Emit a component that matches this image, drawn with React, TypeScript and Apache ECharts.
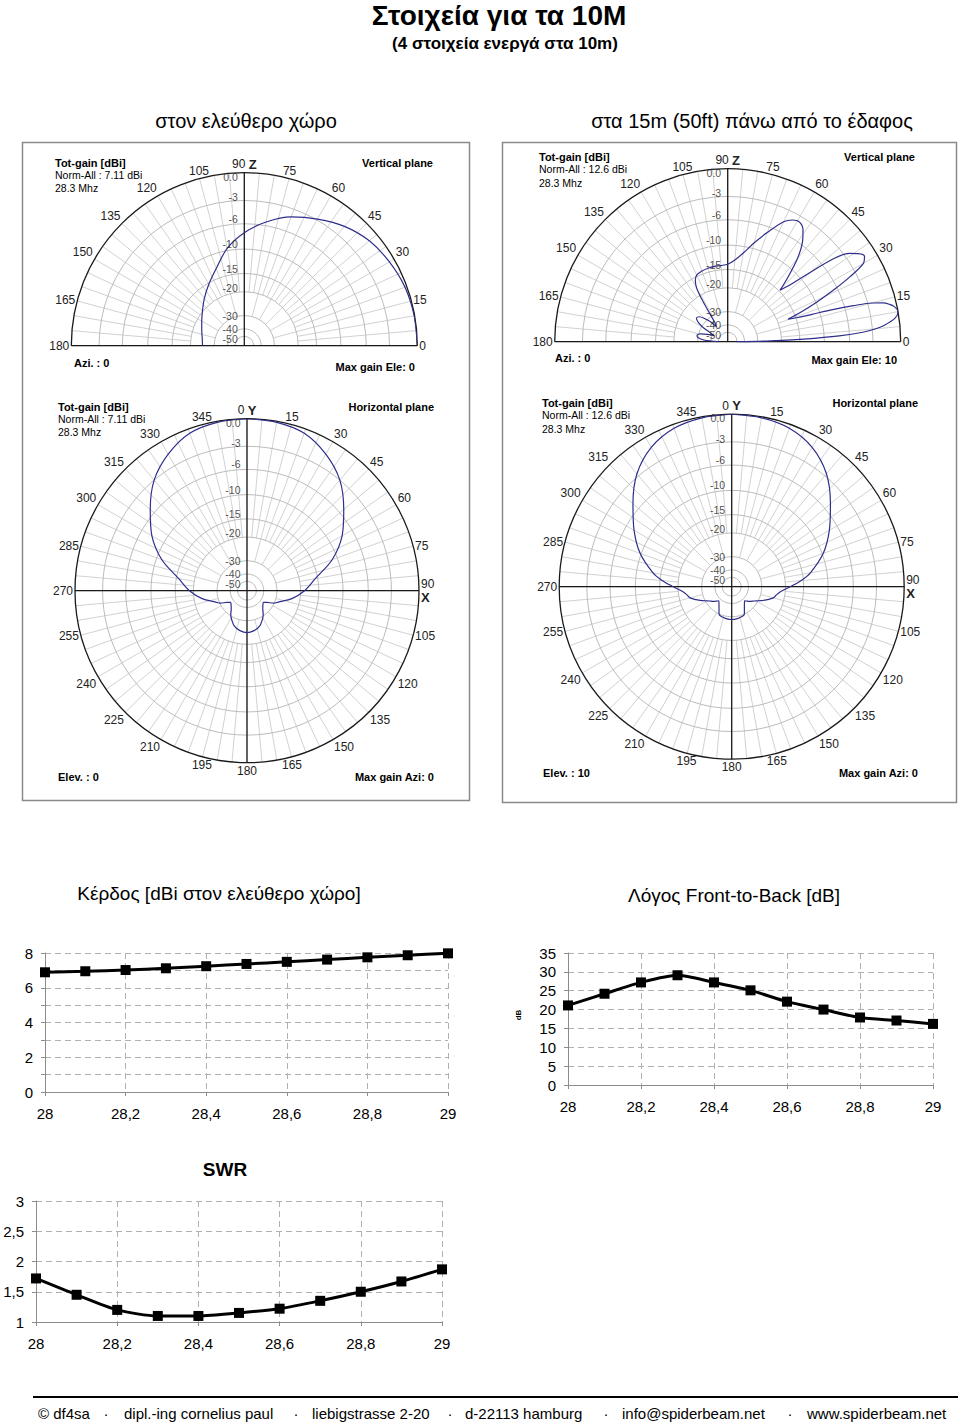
import React, { useEffect, useRef } from 'react';
import * as echarts from 'echarts';

const FONT = '"Liberation Sans", Arial, sans-serif';

// ---------- line chart data ----------
const FREQ = [28, 28.1, 28.2, 28.3, 28.4, 28.5, 28.6, 28.7, 28.8, 28.9, 29];
const GAIN_DBI = [6.89, 6.95, 7.02, 7.12, 7.24, 7.37, 7.49, 7.62, 7.75, 7.87, 7.98];
const FB_DB = [21.1, 24.2, 27.2, 29.1, 27.2, 25.1, 22.1, 20.0, 17.9, 17.1, 16.2];
const SWR = [1.72, 1.45, 1.2, 1.1, 1.1, 1.15, 1.22, 1.35, 1.5, 1.67, 1.87];

// ---------- polar grid ----------
const RING_DB = [0, -3, -6, -10, -15, -20, -30, -40, -50];
const RING_LABELS = ['0.0', '-3', '-6', '-10', '-15', '-20', '-30', '-40', '-50'];
const RING_LABEL_DY = [4, -3, -5, -5, -5, -4, 0, 0, 3];

// ---------- antenna patterns (angle in degrees, gain in dB rel. max) ----------
// free space, vertical plane (elevation)
const FS_V_ANG = [0, 10, 20, 30, 40, 50, 60, 70, 80, 90, 100, 110, 120, 130, 140, 150, 160, 170, 180];
const FS_V_DB = [0, -0.05, -0.2, -0.55, -1.0, -1.8, -2.9, -4.0, -5.5, -7.3, -9.6, -12.8, -15.3, -17.6, -19.8, -21.6, -23.0, -24.0, -24.4];

// 15 m above ground, vertical plane (elevation)
const GR_V_ANG = [0, 1, 2, 3, 4, 5, 6, 8, 10, 12, 13, 14, 15, 16, 17, 18, 19, 20.5, 22, 24, 26, 28, 30, 32, 34, 36, 38, 40, 42, 44.5, 47, 50, 53, 56, 59, 62, 65, 70, 75, 80, 85, 90, 95, 100, 105, 110, 115, 118, 120, 121, 122, 124, 127, 131, 135, 139, 143, 147, 150, 153, 156, 160, 164, 168, 172, 176, 180];
const GR_V_DB = [-50, -24, -14, -7.5, -4.2, -2.6, -1.6, -0.4, 0, -0.3, -0.7, -1.3, -2.5, -4.8, -7.8, -11.5, -14.5, -17, -13.5, -9.8, -6.6, -3.8, -1.7, -1.2, -1.6, -2.4, -4.2, -8.0, -11.8, -14.7, -11.5, -8.0, -5.7, -4.3, -3.7, -3.9, -4.6, -6.8, -9.0, -11.2, -12.8, -13.8, -14.0, -14.0, -14.1, -14.3, -14.7, -15.8, -17.5, -20, -25, -35, -38, -32, -28.5, -26, -25.5, -27.5, -31, -38, -42, -36, -31, -29.3, -30, -34, -50];

// free space, horizontal plane (azimuth)
const FS_H_ANG = [0, 10, 20, 30, 40, 50, 60, 70, 80, 90, 100, 110, 115, 120, 125, 130, 135, 140, 145, 150, 160, 170, 180, 190, 200, 210, 215, 220, 225, 230, 235, 240, 245, 250, 260, 270, 280, 290, 300, 310, 320, 330, 340, 350, 360];
const FS_H_DB = [0, -0.1, -0.45, -1.5, -3.0, -5.3, -7.7, -11.0, -15.6, -18.8, -22.8, -28.2, -30.2, -34.2, -36.8, -36.2, -35.0, -33.4, -31.0, -29.1, -26.2, -24.8, -24.2, -24.8, -26.2, -29.1, -31.0, -33.4, -35.0, -36.2, -36.8, -34.2, -30.2, -28.2, -22.8, -18.8, -15.6, -11.0, -7.7, -5.3, -3.0, -1.5, -0.45, -0.1, 0];

// 15 m above ground, horizontal plane (azimuth, elev 10)
const GR_H_ANG = [0, 10, 20, 30, 40, 50, 60, 70, 80, 85, 90, 95, 100, 105, 110, 115, 120, 125, 130, 135, 138, 145, 150, 155, 160, 170, 180, 190, 200, 205, 210, 215, 222, 225, 230, 235, 240, 245, 250, 255, 260, 265, 270, 275, 280, 290, 300, 310, 320, 330, 340, 350, 360];
const GR_H_DB = [0, -0.1, -0.4, -1.2, -2.7, -5.0, -7.3, -9.8, -13.2, -15.6, -18.6, -21.2, -22.8, -23.8, -26.0, -28.5, -31.0, -33.0, -34.6, -36.8, -37.8, -35.2, -32.9, -30.0, -29.2, -28.7, -28.5, -28.7, -29.2, -30.0, -32.9, -35.2, -37.8, -36.8, -34.6, -33.0, -31.0, -28.5, -26.0, -23.8, -22.8, -21.2, -18.6, -15.6, -13.2, -9.8, -7.3, -5.0, -2.7, -1.2, -0.4, -0.1, 0];

function arrl(db: number) {
  return Math.pow(0.89, -Math.max(db, -50) / 2);
}

function makeGrid(half: boolean) {
  return (_params: any, api: any) => {
    const c = api.coord([0, 0]);
    const cx = c[0], cy = c[1];
    const children: any[] = [];
    for (let a = 0; a < 360; a += 5) {
      if (half && a > 180) continue;
      const inner = a % 15 === 0 ? arrl(-30) : arrl(-20);
      const p0 = api.coord([inner, a]);
      const p1 = api.coord([1, a]);
      children.push({ type: 'line', shape: { x1: p0[0], y1: p0[1], x2: p1[0], y2: p1[1] }, style: { stroke: '#d2d2d2', lineWidth: 1 } });
    }
    RING_DB.forEach((d, k) => {
      const p = api.coord([arrl(d), 0]);
      const rr = Math.hypot(p[0] - cx, p[1] - cy);
      const st = { stroke: k === 0 ? '#1a1a1a' : '#bcbcbc', lineWidth: k === 0 ? 1.3 : 1, fill: 'none' };
      children.push(half
        ? { type: 'arc', shape: { cx, cy, r: rr, startAngle: Math.PI, endAngle: 2 * Math.PI, clockwise: true }, style: st }
        : { type: 'circle', shape: { cx, cy, r: rr }, style: st });
    });
    const axisSt = { stroke: '#1a1a1a', lineWidth: 1.3 };
    const a0 = api.coord([1, 0]);
    const a180 = api.coord([1, 180]);
    const a90 = api.coord([1, 90]);
    const a270 = api.coord([1, 270]);
    if (half) {
      children.push({ type: 'line', shape: { x1: a180[0], y1: a180[1], x2: a0[0], y2: a0[1] }, style: axisSt });
      children.push({ type: 'line', shape: { x1: cx, y1: cy, x2: a90[0], y2: a90[1] }, style: axisSt });
    } else {
      children.push({ type: 'line', shape: { x1: a0[0], y1: a0[1], x2: a180[0], y2: a180[1] }, style: axisSt });
      children.push({ type: 'line', shape: { x1: a90[0], y1: a90[1], x2: a270[0], y2: a270[1] }, style: axisSt });
    }
    return { type: 'group', children };
  };
}

const fmtComma = (v: number) => {
  const r = Math.round(v * 10) / 10;
  return Number.isInteger(r) ? String(r) : r.toFixed(1).replace('.', ',');
};

function txt(x: number, y: number, text: string, font: string, align = 'left', extra: any = {}) {
  return {
    type: 'text', x, y, z: 10, ...extra,
    style: { text, font, fill: '#000', textAlign: align, textVerticalAlign: 'middle' },
  };
}

export default function App() {
  const ref = useRef<HTMLDivElement>(null);
  useEffect(() => {
    if (!ref.current) return;
    const chart = echarts.init(ref.current, undefined, { renderer: 'svg' });

    const polars = [
      { center: [244.3, 345.7], radius: 173, half: true, ang: FS_V_ANG, db: FS_V_DB },
      { center: [727.7, 341.7], radius: 173, half: true, ang: GR_V_ANG, db: GR_V_DB },
      { center: [247, 590.7], radius: 172, half: false, ang: FS_H_ANG, db: FS_H_DB },
      { center: [731.7, 586.7], radius: 172.5, half: false, ang: GR_H_ANG, db: GR_H_DB },
    ];

    const series: any[] = [];
    polars.forEach((p, i) => {
      series.push({
        type: 'custom', coordinateSystem: 'polar', polarIndex: i, data: [[0, 0]], silent: true, z: 1,
        renderItem: makeGrid(p.half),
      });
      series.push({
        type: 'line', coordinateSystem: 'polar', polarIndex: i, symbol: 'none', smooth: 0.3, z: 3,
        lineStyle: { color: '#2e2e8c', width: 1.2 },
        data: p.ang.map((a, k) => [arrl(p.db[k]), a]),
      });
      series.push({
        type: 'scatter', coordinateSystem: 'polar', polarIndex: i, symbolSize: 1, z: 4,
        itemStyle: { color: 'rgba(0,0,0,0)' },
        label: { show: true, position: 'left', distance: 6, formatter: '{b}', fontSize: 10.5, color: '#222', fontFamily: FONT },
        data: RING_DB.map((d, k) => ({ value: [arrl(d), p.half ? 90 : 0], name: RING_LABELS[k], label: { offset: [0, RING_LABEL_DY[k]] } })),
      });
    });

    const lineSeries = [GAIN_DBI, FB_DB, SWR];
    lineSeries.forEach((vals, i) => {
      series.push({
        type: 'line', xAxisIndex: i, yAxisIndex: i, smooth: 0.25, symbol: 'rect', symbolSize: 10,
        lineStyle: { color: '#000', width: 3 }, itemStyle: { color: '#000' },
        data: FREQ.map((f, k) => [f, vals[k]]),
      });
    });

    const grids = [
      { left: 45, top: 953, width: 403, height: 139 },
      { left: 568, top: 953, width: 365, height: 132 },
      { left: 36, top: 1201, width: 406, height: 121 },
    ];
    const yCfg = [
      { min: 0, max: 8, interval: 1, fmt: (v: number) => (v % 2 === 0 ? String(v) : '') },
      { min: 0, max: 35, interval: 5, fmt: (v: number) => String(v) },
      { min: 1, max: 3, interval: 0.5, fmt: fmtComma },
    ];
    const dash = { type: [6, 4], color: '#b0b0b0', width: 1 };

    const graphic: any[] = [
      { type: 'rect', shape: { x: 22.5, y: 142.5, width: 447, height: 658 }, style: { fill: 'none', stroke: '#8a8a8a', lineWidth: 1.5 }, z: 0 },
      { type: 'rect', shape: { x: 502.5, y: 142.5, width: 454, height: 660 }, style: { fill: 'none', stroke: '#8a8a8a', lineWidth: 1.5 }, z: 0 },
      txt(499, 15, 'Στοιχεία για τα 10M', `bold 28px ${FONT}`, 'center'),
      txt(505, 43, '(4 στοιχεία ενεργά στα 10m)', `bold 17px ${FONT}`, 'center'),
      txt(246, 121, 'στον ελεύθερο χώρο', `20px ${FONT}`, 'center'),
      txt(752, 121, 'στα 15m (50ft) πάνω από το έδαφος', `20px ${FONT}`, 'center'),
      // panel texts
      txt(55, 162.5, 'Tot-gain [dBi]', `bold 11px ${FONT}`),
      txt(55, 174.5, 'Norm-All : 7.11 dBi', `10.5px ${FONT}`),
      txt(55, 187.5, '28.3 Mhz', `10.5px ${FONT}`),
      txt(433, 162.5, 'Vertical plane', `bold 11px ${FONT}`, 'right'),
      txt(74, 362.5, 'Azi. : 0', `bold 11px ${FONT}`),
      txt(415, 366.5, 'Max gain Ele: 0', `bold 11px ${FONT}`, 'right'),

      txt(539, 156.5, 'Tot-gain [dBi]', `bold 11px ${FONT}`),
      txt(539, 169, 'Norm-All : 12.6 dBi', `10.5px ${FONT}`),
      txt(539, 183, '28.3 Mhz', `10.5px ${FONT}`),
      txt(915, 156.5, 'Vertical plane', `bold 11px ${FONT}`, 'right'),
      txt(555, 358, 'Azi. : 0', `bold 11px ${FONT}`),
      txt(897, 360, 'Max gain Ele: 10', `bold 11px ${FONT}`, 'right'),

      txt(58, 406.5, 'Tot-gain [dBi]', `bold 11px ${FONT}`),
      txt(58, 418.5, 'Norm-All : 7.11 dBi', `10.5px ${FONT}`),
      txt(58, 431.5, '28.3 Mhz', `10.5px ${FONT}`),
      txt(434, 406.5, 'Horizontal plane', `bold 11px ${FONT}`, 'right'),
      txt(58, 776.5, 'Elev. : 0', `bold 11px ${FONT}`),
      txt(434, 776.5, 'Max gain Azi: 0', `bold 11px ${FONT}`, 'right'),

      txt(542, 402.5, 'Tot-gain [dBi]', `bold 11px ${FONT}`),
      txt(542, 415, 'Norm-All : 12.6 dBi', `10.5px ${FONT}`),
      txt(542, 428.5, '28.3 Mhz', `10.5px ${FONT}`),
      txt(918, 402.5, 'Horizontal plane', `bold 11px ${FONT}`, 'right'),
      txt(543, 772.5, 'Elev. : 10', `bold 11px ${FONT}`),
      txt(918, 772.5, 'Max gain Azi: 0', `bold 11px ${FONT}`, 'right'),

      // chart titles
      txt(219, 893, 'Κέρδος [dBi στον ελεύθερο χώρο]', `19px ${FONT}`, 'center'),
      txt(734, 895, 'Λόγος Front-to-Back [dB]', `19px ${FONT}`, 'center'),
      txt(225, 1169, 'SWR', `bold 19px ${FONT}`, 'center'),
      txt(518, 1015, 'dB', `bold 8px ${FONT}`, 'center', { rotation: Math.PI / 2 }),

      // footer
      { type: 'line', shape: { x1: 33, y1: 1397, x2: 958, y2: 1397 }, style: { stroke: '#000', lineWidth: 2 } },
      txt(38, 1413, '© df4sa', `15px ${FONT}`),
      txt(106, 1413, '·', `15px ${FONT}`, 'center'),
      txt(124, 1413, 'dipl.-ing cornelius paul', `15px ${FONT}`),
      txt(296, 1413, '·', `15px ${FONT}`, 'center'),
      txt(312, 1413, 'liebigstrasse 2-20', `15px ${FONT}`),
      txt(450, 1413, '·', `15px ${FONT}`, 'center'),
      txt(465, 1413, 'd-22113 hamburg', `15px ${FONT}`),
      txt(606, 1413, '·', `15px ${FONT}`, 'center'),
      txt(622, 1413, 'info@spiderbeam.net', `15px ${FONT}`),
      txt(790, 1413, '·', `15px ${FONT}`, 'center'),
      txt(807, 1413, 'www.spiderbeam.net', `15px ${FONT}`),
    ];

    const option: any = {
      animation: false,
      backgroundColor: '#fff',
      polar: polars.map((p) => ({ center: p.center, radius: p.radius })),
      radiusAxis: polars.map((_p, i) => ({
        polarIndex: i, type: 'value', min: 0, max: 1,
        axisLine: { show: false }, axisTick: { show: false }, axisLabel: { show: false }, splitLine: { show: false },
      })),
      angleAxis: polars.map((p, i) => ({
        polarIndex: i, type: 'value', min: 0, max: 360, interval: 15,
        startAngle: p.half ? 0 : 90, clockwise: !p.half,
        axisLine: { show: false }, axisTick: { show: false }, splitLine: { show: false },
        axisLabel: {
          margin: 2, fontSize: 12, color: '#222', fontFamily: FONT,
          formatter: (v: number) => {
            if (v >= 360) return '';
            if (p.half) {
              if (v > 180) return '';
              return v === 90 ? '90 {z|Z}' : String(v);
            }
            if (v === 0) return '0 {z|Y}';
            if (v === 90) return '{n|90}\n{x|X}';
            return String(v);
          },
          rich: {
            z: { fontSize: 13, fontWeight: 'bold', color: '#222', fontFamily: FONT },
            n: { fontSize: 12, color: '#222', fontFamily: FONT, lineHeight: 14 },
            x: { fontSize: 13, fontWeight: 'bold', color: '#222', fontFamily: FONT, lineHeight: 14 },
          },
        },
      })),
      grid: grids,
      xAxis: grids.map((_g, i) => ({
        gridIndex: i, type: 'value', min: 28, max: 29, interval: 0.2,
        axisLine: { show: true, lineStyle: { color: '#8c8c8c' } },
        axisTick: { show: true, length: 4, lineStyle: { color: '#8c8c8c' } },
        axisLabel: { margin: 14, fontSize: 15, color: '#000', fontFamily: FONT, formatter: fmtComma },
        splitLine: { show: true, lineStyle: dash },
      })),
      yAxis: yCfg.map((c, i) => ({
        gridIndex: i, type: 'value', min: c.min, max: c.max, interval: c.interval,
        axisLine: { show: true, lineStyle: { color: '#8c8c8c' } },
        axisTick: { show: true, length: 4, lineStyle: { color: '#8c8c8c' } },
        axisLabel: { margin: 12, fontSize: 15, color: '#000', fontFamily: FONT, formatter: c.fmt },
        splitLine: { show: true, lineStyle: dash },
      })),
      series,
      graphic,
    };
    chart.setOption(option);
    return () => chart.dispose();
  }, []);
  return <div ref={ref} style={{ position: 'absolute', left: 0, top: 0, width: 960, height: 1423, background: '#fff' }} />;
}
